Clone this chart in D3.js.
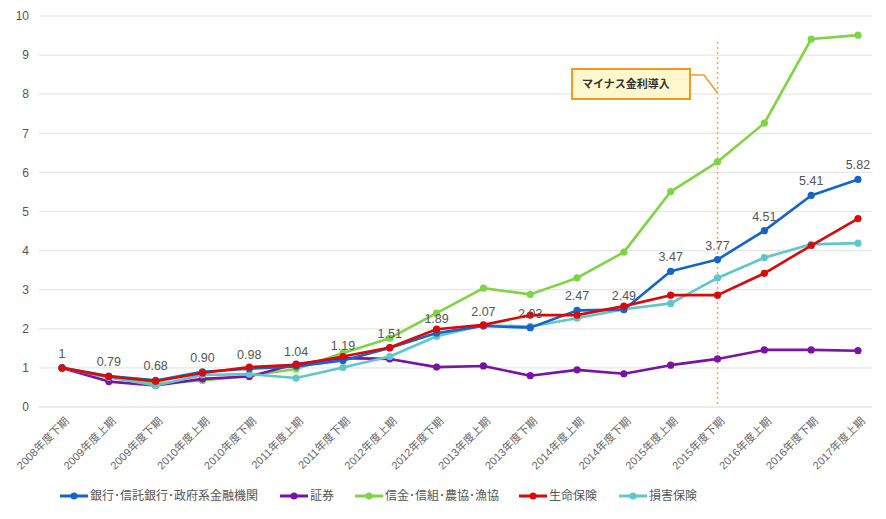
<!DOCTYPE html>
<html>
<head>
<meta charset="utf-8">
<script src="https://cdn.jsdelivr.net/npm/d3@7"></script>
<style>
  body { margin: 0; background: #fff; }
  svg { font-family: "Liberation Sans", "Noto Sans CJK JP", sans-serif; }
</style>
</head>
<body>
<svg id="chart" width="886" height="519"></svg>
<script>
const categories = [
  '2008年度下期','2009年度上期','2009年度下期','2010年度上期','2010年度下期','2011年度上期',
  '2011年度下期','2012年度上期','2012年度下期','2013年度上期','2013年度下期','2014年度上期',
  '2014年度下期','2015年度上期','2015年度下期','2016年度上期','2016年度下期','2017年度上期'
];

const bank      = [1, 0.79, 0.68, 0.90, 0.98, 1.04, 1.19, 1.51, 1.89, 2.07, 2.03, 2.47, 2.49, 3.47, 3.77, 4.51, 5.41, 5.82];
const securities= [1, 0.65, 0.55, 0.72, 0.78, 1.10, 1.25, 1.23, 1.02, 1.05, 0.80, 0.95, 0.85, 1.07, 1.23, 1.46, 1.46, 1.44];
const shinkin   = [1, 0.75, 0.60, 0.68, 0.80, 0.97, 1.38, 1.76, 2.40, 3.04, 2.88, 3.30, 3.96, 5.51, 6.27, 7.26, 9.41, 9.51];
const life      = [1, 0.78, 0.66, 0.87, 1.02, 1.08, 1.29, 1.52, 1.99, 2.10, 2.35, 2.35, 2.58, 2.86, 2.86, 3.42, 4.13, 4.82];
const nonlife   = [1, 0.76, 0.55, 0.82, 0.84, 0.74, 1.01, 1.29, 1.81, 2.09, 2.06, 2.27, 2.50, 2.65, 3.30, 3.82, 4.16, 4.19];

const dataLabels = ['1','0.79','0.68','0.90','0.98','1.04','1.19','1.51','1.89','2.07','2.03','2.47','2.49','3.47','3.77','4.51','5.41','5.82'];
const yTicks = [0,1,2,3,4,5,6,7,8,9,10];

const series = [
  { name: '銀行･信託銀行･政府系金融機関', values: bank,       color: '#1565c8' },
  { name: '証券',                         values: securities, color: '#7a12a8' },
  { name: '信金･信組･農協･漁協',          values: shinkin,    color: '#7ed443' },
  { name: '生命保険',                     values: life,       color: '#d80a0a' },
  { name: '損害保険',                     values: nonlife,    color: '#5ec7cc' },
];
// draw order (bottom to top)
const drawOrder = [2, 1, 4, 0, 3];

const markerCat = '2015年度下期';
const markerText = 'マイナス金利導入';

const svg = d3.select('#chart');

const x = d3.scalePoint().domain(categories).range([62, 858]);
const y = d3.scaleLinear().domain([0, 10]).range([407, 16]);

// gridlines
svg.append('g')
  .selectAll('line')
  .data(yTicks)
  .join('line')
  .attr('x1', 39).attr('x2', 872)
  .attr('y1', d => y(d)).attr('y2', d => y(d))
  .attr('stroke', d => d === 0 ? '#d8d8d8' : '#e6e6e6')
  .attr('stroke-width', 1.2);

// y axis labels
svg.append('g')
  .selectAll('text')
  .data(yTicks)
  .join('text')
  .attr('x', 29)
  .attr('y', d => y(d))
  .attr('dy', '0.35em')
  .attr('text-anchor', 'end')
  .attr('font-size', 12)
  .attr('fill', '#555')
  .text(d => d);

// x axis labels (rotated)
svg.append('g')
  .selectAll('text')
  .data(categories)
  .join('text')
  .attr('transform', d => `translate(${x(d) + 5},${419}) rotate(-45)`)
  .attr('text-anchor', 'end')
  .attr('dy', '0.35em')
  .attr('font-size', 11)
  .attr('fill', '#666')
  .text(d => d);

// negative rate marker (dotted vertical)
const mx = x(markerCat);
svg.append('line')
  .attr('x1', mx).attr('x2', mx)
  .attr('y1', 42).attr('y2', y(0))
  .attr('stroke', '#f7a84a')
  .attr('stroke-width', 1.6)
  .attr('stroke-dasharray', '2,3');

// lines + points
const line = d3.line()
  .x((d, i) => x(categories[i]))
  .y(d => y(d));

drawOrder.forEach(si => {
  const s = series[si];
  const g = svg.append('g');
  g.append('path')
    .datum(s.values)
    .attr('fill', 'none')
    .attr('stroke', s.color)
    .attr('stroke-width', 2.6)
    .attr('stroke-linejoin', 'round')
    .attr('d', line);
  g.selectAll('circle')
    .data(s.values)
    .join('circle')
    .attr('cx', (d, i) => x(categories[i]))
    .attr('cy', d => y(d))
    .attr('r', 3.6)
    .attr('fill', s.color);
});

// data labels for bank series
svg.append('g')
  .selectAll('text')
  .data(bank)
  .join('text')
  .attr('x', (d, i) => x(categories[i]))
  .attr('y', d => y(d) - 10)
  .attr('text-anchor', 'middle')
  .attr('font-size', 12.5)
  .attr('fill', '#555')
  .text((d, i) => dataLabels[i]);

// callout
const callout = svg.append('g');
callout.append('path')
  .attr('d', `M690,75 L704,75 L${mx},93`)
  .attr('fill', 'none')
  .attr('stroke', '#f39a1e')
  .attr('stroke-width', 1.5);
callout.append('rect')
  .attr('x', 572).attr('y', 69)
  .attr('width', 118).attr('height', 30)
  .attr('fill', '#fff8cf')
  .attr('stroke', '#f39a1e')
  .attr('stroke-width', 2);
callout.append('text')
  .attr('x', 582).attr('y', 84)
  .attr('dy', '0.35em')
  .attr('font-size', 11)
  .attr('font-weight', 'bold')
  .attr('fill', '#333')
  .text(markerText);

// legend
const legendX = [60, 280, 355, 519, 619];
const legend = svg.append('g');
series.forEach((s, i) => {
  const lg = legend.append('g').attr('transform', `translate(${legendX[i]},496)`);
  lg.append('line')
    .attr('x1', 0).attr('x2', 28)
    .attr('stroke', s.color).attr('stroke-width', 3);
  lg.append('circle').attr('cx', 14).attr('r', 3.5).attr('fill', s.color);
  lg.append('text')
    .attr('x', 30).attr('dy', '0.35em')
    .attr('font-size', 12)
    .attr('fill', '#555')
    .text(s.name);
});
</script>
</body>
</html>
